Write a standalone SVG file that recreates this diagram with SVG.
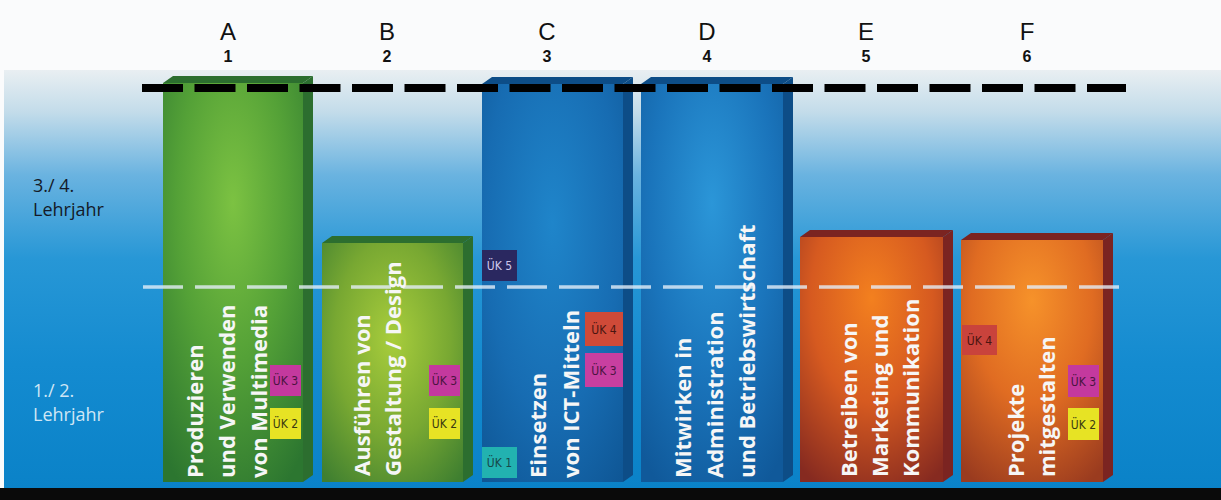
<svg xmlns="http://www.w3.org/2000/svg" width="1221" height="500" viewBox="0 0 1221 500">
  <style>
    .hdr { font-family: "Liberation Sans", Arial, sans-serif; fill: #111; text-anchor: middle; }
    .let { font-size: 24px; }
    .num { font-size: 16px; font-weight: bold; }
    .yr { font-family: "Open Sans", "DejaVu Sans", sans-serif; font-size: 18px; }
    .lbl { font-family: "Open Sans", "DejaVu Sans", sans-serif; font-size: 22px; font-weight: 700; fill: #f6f6f6; }
    .uk { font-family: "DejaVu Sans Condensed", "Liberation Sans Narrow", "Liberation Sans", sans-serif; font-size: 12px; text-anchor: middle; }
    .gtop { fill: #2c6e2f; }
    .btop { fill: #0d4d87; }
    .rtop { fill: #7b2421; }
  </style>
  <defs>
    <linearGradient id="bg" x1="0" y1="0" x2="0" y2="1">
      <stop offset="0" stop-color="#e9eff2"/>
      <stop offset="0.1" stop-color="#c3dcea"/>
      <stop offset="0.25" stop-color="#6ab3e0"/>
      <stop offset="0.45" stop-color="#2797d6"/>
      <stop offset="0.7" stop-color="#148bd0"/>
      <stop offset="1" stop-color="#0a82c8"/>
    </linearGradient>
    <radialGradient id="gA" cx="0.5" cy="0.3" r="0.8">
      <stop offset="0" stop-color="#7cc242"/>
      <stop offset="0.5" stop-color="#54a137"/>
      <stop offset="1" stop-color="#2c7630"/>
    </radialGradient>
    <radialGradient id="gB" cx="0.5" cy="0.4" r="0.75">
      <stop offset="0" stop-color="#a8cd3c"/>
      <stop offset="0.55" stop-color="#78a832"/>
      <stop offset="1" stop-color="#3f7f30"/>
    </radialGradient>
    <radialGradient id="gC" cx="0.5" cy="0.35" r="0.8">
      <stop offset="0" stop-color="#1f85ca"/>
      <stop offset="0.6" stop-color="#176cb2"/>
      <stop offset="1" stop-color="#0f5796"/>
    </radialGradient>
    <radialGradient id="gD" cx="0.5" cy="0.3" r="0.8">
      <stop offset="0" stop-color="#2b96d8"/>
      <stop offset="0.55" stop-color="#1a74bb"/>
      <stop offset="1" stop-color="#10599a"/>
    </radialGradient>
    <radialGradient id="gE" cx="0.5" cy="0.25" r="0.85">
      <stop offset="0" stop-color="#f3801f"/>
      <stop offset="0.5" stop-color="#d65a20"/>
      <stop offset="1" stop-color="#862a20"/>
    </radialGradient>
    <radialGradient id="gF" cx="0.5" cy="0.25" r="0.85">
      <stop offset="0" stop-color="#f6922a"/>
      <stop offset="0.5" stop-color="#e06c22"/>
      <stop offset="1" stop-color="#9a3b1f"/>
    </radialGradient>
  </defs>

  <!-- background -->
  <rect x="0" y="0" width="1221" height="500" fill="#fafbfc"/>
  <rect x="4" y="70" width="1217" height="420" fill="url(#bg)"/>
  <rect x="0" y="488" width="1221" height="12" fill="#0a0a0a"/>

  <!-- header -->
  <g id="header">
    <text class="hdr let" x="228" y="40">A</text><text class="hdr num" x="228" y="62">1</text>
    <text class="hdr let" x="387" y="40">B</text><text class="hdr num" x="387" y="62">2</text>
    <text class="hdr let" x="547" y="40">C</text><text class="hdr num" x="547" y="62">3</text>
    <text class="hdr let" x="707" y="40">D</text><text class="hdr num" x="707" y="62">4</text>
    <text class="hdr let" x="866" y="40">E</text><text class="hdr num" x="866" y="62">5</text>
    <text class="hdr let" x="1027" y="40">F</text><text class="hdr num" x="1027" y="62">6</text>
  </g>

  <!-- year labels -->
  <g id="years">
    <text class="yr" x="33" y="192" fill="#141a28">3./ 4.</text>
    <text class="yr" x="33" y="216" fill="#141a28">Lehrjahr</text>
    <text class="yr" x="33" y="397" fill="#cfe6f5">1./ 2.</text>
    <text class="yr" x="33" y="421" fill="#cfe6f5">Lehrjahr</text>
  </g>

  <!-- Bar A -->
  <g id="bar-A">
    <polygon class="gtop" points="163,83 173,76 313,76 303,83"/>
    <polygon class="gtop" points="303,83 313,76 313,475 303,482"/>
    <rect x="163" y="83" width="140" height="399" fill="url(#gA)"/>
  </g>
  <!-- Bar B -->
  <g id="bar-B">
    <polygon class="gtop" points="322,243 332,236 473,236 463,243"/>
    <polygon class="gtop" points="463,243 473,236 473,475 463,482"/>
    <rect x="322" y="243" width="141" height="239" fill="url(#gB)"/>
  </g>
  <!-- Bar C -->
  <g id="bar-C">
    <polygon class="btop" points="482,84 492,77 633,77 623,84"/>
    <polygon class="btop" points="623,84 633,77 633,475 623,482"/>
    <rect x="482" y="84" width="141" height="398" fill="url(#gC)"/>
  </g>
  <!-- Bar D -->
  <g id="bar-D">
    <polygon class="btop" points="641,84 651,77 793,77 783,84"/>
    <polygon class="btop" points="783,84 793,77 793,475 783,482"/>
    <rect x="641" y="84" width="142" height="398" fill="url(#gD)"/>
  </g>
  <!-- Bar E -->
  <g id="bar-E">
    <polygon class="rtop" points="800,237 810,230 953,230 943,237"/>
    <polygon class="rtop" points="943,237 953,230 953,475 943,482"/>
    <rect x="800" y="237" width="143" height="245" fill="url(#gE)"/>
  </g>
  <!-- Bar F -->
  <g id="bar-F">
    <polygon class="rtop" points="961,240 971,233 1113,233 1103,240"/>
    <polygon class="rtop" points="1103,240 1113,233 1113,475 1103,482"/>
    <rect x="961" y="240" width="142" height="242" fill="url(#gF)"/>
  </g>

  <!-- guide lines -->
  <g id="connectors">
    <line x1="142" y1="88" x2="1126" y2="88" stroke="#000" stroke-width="8" stroke-dasharray="41 11.5"/>
    <line x1="143" y1="287" x2="1124" y2="287" stroke="#e4eef7" stroke-opacity="0.8" stroke-width="3.5" stroke-dasharray="40 12"/>
  </g>

  <!-- bar labels -->
  <g id="label-A">
    <text class="lbl" transform="translate(203,478) rotate(-90)">Produzieren</text>
    <text class="lbl" transform="translate(235,478) rotate(-90)">und Verwenden</text>
    <text class="lbl" transform="translate(267,478) rotate(-90)">von Multimedia</text>
  </g>
  <g id="label-B">
    <text class="lbl" transform="translate(370,476) rotate(-90)">Ausführen von</text>
    <text class="lbl" transform="translate(401,476) rotate(-90)">Gestaltung / Design</text>
  </g>
  <g id="label-C">
    <text class="lbl" transform="translate(546,478) rotate(-90)">Einsetzen</text>
    <text class="lbl" transform="translate(579,478) rotate(-90)">von ICT-Mitteln</text>
  </g>
  <g id="label-D">
    <text class="lbl" transform="translate(691,478) rotate(-90)">Mitwirken in</text>
    <text class="lbl" transform="translate(723,478) rotate(-90)">Administration</text>
    <text class="lbl" transform="translate(755,478) rotate(-90)">und Betriebswirtschaft</text>
  </g>
  <g id="label-E">
    <text class="lbl" transform="translate(857,477) rotate(-90)">Betreiben von</text>
    <text class="lbl" transform="translate(888,477) rotate(-90)">Marketing und</text>
    <text class="lbl" transform="translate(919,477) rotate(-90)">Kommunikation</text>
  </g>
  <g id="label-F">
    <text class="lbl" transform="translate(1024,477) rotate(-90)">Projekte</text>
    <text class="lbl" transform="translate(1055,477) rotate(-90)">mitgestalten</text>
  </g>

  <!-- ÜK badges -->
  <g id="uk-A3"><rect x="270" y="365" width="31" height="31" fill="#c4399e"/><text class="uk" x="285.5" y="385" fill="#4a1440">ÜK 3</text></g>
  <g id="uk-A2"><rect x="270" y="408" width="31" height="31" fill="#e7e324"/><text class="uk" x="285.5" y="428" fill="#3a3a12">ÜK 2</text></g>
  <g id="uk-B3"><rect x="429" y="365" width="31" height="31" fill="#c4399e"/><text class="uk" x="444.5" y="385" fill="#4a1440">ÜK 3</text></g>
  <g id="uk-B2"><rect x="429" y="408" width="31" height="31" fill="#e7e324"/><text class="uk" x="444.5" y="428" fill="#3a3a12">ÜK 2</text></g>
  <g id="uk-C5"><rect x="482" y="250" width="35" height="31" fill="#2a2860"/><text class="uk" x="499.5" y="270" fill="#cfc8ec">ÜK 5</text></g>
  <g id="uk-C4"><rect x="585" y="312" width="38" height="34" fill="#cf4a38"/><text class="uk" x="604" y="333.5" fill="#4a1510">ÜK 4</text></g>
  <g id="uk-C3"><rect x="585" y="353" width="38" height="34" fill="#c83fa0"/><text class="uk" x="604" y="374.5" fill="#4a1440">ÜK 3</text></g>
  <g id="uk-C1"><rect x="482" y="447" width="35" height="31" fill="#22b2b0"/><text class="uk" x="499.5" y="467" fill="#17484a">ÜK 1</text></g>
  <g id="uk-F4"><rect x="962" y="325" width="35" height="30" fill="#c9433c"/><text class="uk" x="979.5" y="344.5" fill="#4a1510">ÜK 4</text></g>
  <g id="uk-F3"><rect x="1068" y="365" width="31" height="32" fill="#c4399e"/><text class="uk" x="1083.5" y="385.5" fill="#4a1440">ÜK 3</text></g>
  <g id="uk-F2"><rect x="1068" y="408" width="31" height="32" fill="#e7e324"/><text class="uk" x="1083.5" y="428.5" fill="#3a3a12">ÜK 2</text></g>
</svg>
